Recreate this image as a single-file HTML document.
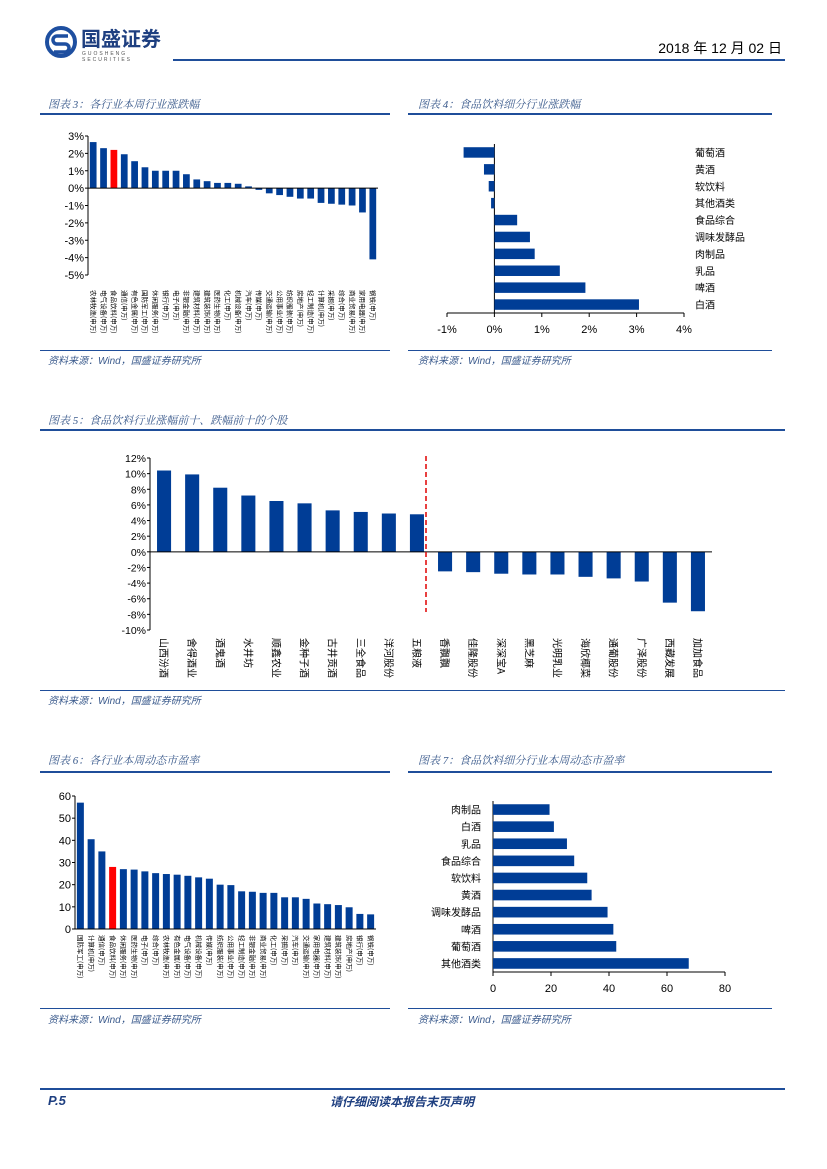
<!DOCTYPE html>
<html><head><meta charset="utf-8">
<style>
html,body{margin:0;padding:0;background:#fff;}
body{width:827px;height:1169px;position:relative;overflow:hidden;font-family:"Liberation Sans","Noto Sans CJK SC",sans-serif;}
.t{position:absolute;font-family:"Liberation Serif","Noto Serif CJK SC",serif;font-style:italic;color:#3a5a8c;font-size:11px;}
.ln{position:absolute;background:#1f4e9a;}
.src{position:absolute;font-style:italic;color:#3a5a8c;font-size:10px;font-family:"Liberation Sans","Noto Sans CJK SC",sans-serif;}
svg{position:absolute;left:0;top:0;}
</style></head><body>
<div style="position:absolute;left:45px;top:26px;width:130px;height:32px;">
<svg width="32" height="32" viewBox="0 0 32 32" style="position:absolute;left:0;top:0"><circle cx="16" cy="16" r="14" fill="none" stroke="#1e4fa0" stroke-width="4"/><path d="M23 10 H12 a4 4 0 0 0 0 8 h8 a4 4 0 0 1 0 8 H9" fill="none" stroke="#1e4fa0" stroke-width="3.5"/></svg>
<div style="position:absolute;left:36px;top:0;font-size:20px;font-weight:bold;color:#1e3f80;font-family:'Noto Sans CJK SC',sans-serif;line-height:24px;">国盛证券</div>
<div style="position:absolute;left:37px;top:25px;font-size:5px;color:#555;letter-spacing:2px;">GUOSHENG SECURITIES</div>
</div>
<div style="position:absolute;right:45px;top:38px;font-size:14px;color:#000;">2018 年 12 月 02 日</div>
<div class="ln" style="left:173px;top:59px;width:612px;height:2px;"></div>

<div class="t" style="left:48px;top:96px;">图表 3：各行业本周行业涨跌幅</div>
<div class="ln" style="left:40px;top:113px;width:350px;height:2px;"></div>
<div class="t" style="left:418px;top:96px;">图表 4：食品饮料细分行业涨跌幅</div>
<div class="ln" style="left:408px;top:113px;width:364px;height:2px;"></div>
<div class="ln" style="left:40px;top:350px;width:350px;height:1px;"></div>
<div class="ln" style="left:408px;top:350px;width:364px;height:1px;"></div>
<div class="src" style="left:48px;top:352px;">资料来源：Wind，国盛证券研究所</div>
<div class="src" style="left:418px;top:352px;">资料来源：Wind，国盛证券研究所</div>

<div class="t" style="left:48px;top:412px;">图表 5：食品饮料行业涨幅前十、跌幅前十的个股</div>
<div class="ln" style="left:40px;top:429px;width:745px;height:2px;"></div>
<div class="ln" style="left:40px;top:690px;width:745px;height:1px;"></div>
<div class="src" style="left:48px;top:692px;">资料来源：Wind，国盛证券研究所</div>

<div class="t" style="left:48px;top:752px;">图表 6：各行业本周动态市盈率</div>
<div class="ln" style="left:40px;top:771px;width:350px;height:2px;"></div>
<div class="t" style="left:418px;top:752px;">图表 7：食品饮料细分行业本周动态市盈率</div>
<div class="ln" style="left:408px;top:771px;width:364px;height:2px;"></div>
<div class="ln" style="left:40px;top:1008px;width:350px;height:1px;"></div>
<div class="ln" style="left:408px;top:1008px;width:364px;height:1px;"></div>
<div class="src" style="left:48px;top:1011px;">资料来源：Wind，国盛证券研究所</div>
<div class="src" style="left:418px;top:1011px;">资料来源：Wind，国盛证券研究所</div>

<div class="ln" style="left:40px;top:1088px;width:745px;height:2px;"></div>
<div style="position:absolute;left:48px;top:1093px;font-size:13px;font-weight:bold;font-style:italic;color:#1e3f80;">P.5</div>
<div style="position:absolute;left:330px;top:1093px;font-size:12px;font-weight:bold;font-style:italic;color:#1e3f80;font-family:'Noto Sans CJK SC',sans-serif;">请仔细阅读本报告末页声明</div>

<svg id="c" width="827" height="1169"></svg>
<script>
const c3Cats=["农林牧渔","电气设备","食品饮料","通信","有色金属","国防军工","休闲服务","银行","电子","非银金融","建筑材料","建筑装饰","医药生物","化工","机械设备","汽车","传媒","交通运输","公用事业","纺织服装","房地产","轻工制造","计算机","采掘","综合","商业贸易","家用电器","钢铁"];
const c3Vals=[2.65,2.3,2.2,1.95,1.55,1.2,1.0,1.0,1.0,0.8,0.5,0.4,0.3,0.3,0.25,0.1,-0.1,-0.3,-0.4,-0.5,-0.6,-0.6,-0.85,-0.9,-0.95,-1.0,-1.4,-4.1];
const c3Ticks=[3,2,1,0,-1,-2,-3,-4,-5];
const c4Cats=["葡萄酒","黄酒","软饮料","其他酒类","食品综合","调味发酵品","肉制品","乳品","啤酒","白酒"];
const c4Vals=[-0.65,-0.22,-0.12,-0.07,0.48,0.75,0.85,1.38,1.92,3.05];
const c4Ticks=[-1,0,1,2,3,4];
const c5Cats=["山西汾酒","舍得酒业","酒鬼酒","水井坊","顺鑫农业","金种子酒","古井贡酒","三全食品","洋河股份","五粮液","香飘飘","佳隆股份","深深宝A","黑芝麻","光明乳业","海欣椰菜","通葡股份","广泽股份","西藏发展","加加食品"];
const c5Vals=[10.4,9.9,8.2,7.2,6.5,6.2,5.3,5.1,4.9,4.8,-2.5,-2.6,-2.8,-2.9,-2.9,-3.2,-3.4,-3.8,-6.5,-7.6];
const c5Ticks=[12,10,8,6,4,2,0,-2,-4,-6,-8,-10];
const c6Cats=["国防军工","计算机","通信","食品饮料","休闲服务","医药生物","电子","综合","农林牧渔","有色金属","电气设备","机械设备","传媒","纺织服装","公用事业","轻工制造","非银金融","商业贸易","化工","采掘","汽车","交通运输","家用电器","建筑材料","建筑装饰","房地产","银行","钢铁"];
const c6Vals=[57,40.5,35,28,27,26.8,26,25.2,24.8,24.5,24,23.3,22.7,20,19.8,17,16.8,16.3,16.3,14.3,14.3,13.6,11.5,11.2,10.8,9.8,6.8,6.6];
const c6Ticks=[60,50,40,30,20,10,0];
const c7Cats=["肉制品","白酒","乳品","食品综合","软饮料","黄酒","调味发酵品","啤酒","葡萄酒","其他酒类"];
const c7Vals=[19.5,21,25.5,28,32.5,34,39.5,41.5,42.5,67.5];
const c7Ticks=[0,20,40,60,80];

const NS="http://www.w3.org/2000/svg",svg=document.getElementById('c');
const BLUE="#003d96";
function el(t,a,txt){const e=document.createElementNS(NS,t);for(const k in a)e.setAttribute(k,a[k]);if(txt!==undefined)e.textContent=txt;svg.appendChild(e);return e;}

function vchart(o){
  const y=v=>o.y0+(o.vmax-v)/(o.vmax-o.vmin)*(o.y1-o.y0);
  const slot=(o.x1-o.x0)/o.cats.length;
  o.ticks.forEach(t=>{
    const tl=el('text',{x:o.x0-4,y:y(t)+4,'text-anchor':'end','font-size':o.fs,fill:'#000'},t+o.suf);
    
    
    el('line',{x1:o.x0-3,x2:o.x0,y1:y(t),y2:y(t),stroke:'#000'});
  });
  el('line',{x1:o.x0,x2:o.x0,y1:o.y0,y2:o.y1,stroke:'#000'});
  o.vals.forEach((v,i)=>{
    const cx=o.x0+slot*(i+0.5),w=slot*o.bw;
    const top=Math.min(y(v),y(0)),h=Math.abs(y(v)-y(0));
    const r=el('rect',{x:cx-w/2,y:top,width:w,height:Math.max(h,1),fill:(o.red===i)?'#ff0000':BLUE});
    
    
    const lab=el('text',{transform:`translate(${cx-o.lfs/2+1},${o.ly}) rotate(90)`,'font-size':o.lfs,fill:'#000','font-family':'"Noto Sans CJK SC",sans-serif'},o.cats[i]+o.lsuf);
    
    
  });
  el('line',{x1:o.x0,x2:o.x1,y1:y(0),y2:y(0),stroke:'#000'});
  return y;
}
function hchart(o){
  const x=v=>o.x0+(v-o.vmin)/(o.vmax-o.vmin)*(o.x1-o.x0);
  const slot=(o.y1-o.y0)/o.cats.length;
  el('line',{x1:o.x0,x2:o.x1,y1:o.y1,y2:o.y1,stroke:'#000'});
  o.ticks.forEach(t=>{
    el('line',{x1:x(t),x2:x(t),y1:o.y1,y2:o.y1+4,stroke:'#000'});
    const tl=el('text',{x:x(t),y:o.y1+20,'text-anchor':'middle','font-size':11,fill:'#000'},t+o.suf);
    
    
  });
  el('line',{x1:x(0),x2:x(0),y1:o.y0,y2:o.y1,stroke:'#000'});
  o.vals.forEach((v,i)=>{
    const cy=o.y0+slot*(i+0.5),h=slot*0.62;
    const r=el('rect',{x:Math.min(x(v),x(0)),y:cy-h/2,width:Math.abs(x(v)-x(0)),height:h,fill:BLUE});
    
    
    const lab=el('text',{x:o.lx,y:cy+4,'text-anchor':o.la,'font-size':10,fill:'#000','font-family':'"Noto Sans CJK SC",sans-serif'},o.cats[i]);
    
    
  });
}
vchart({cats:c3Cats,vals:c3Vals,ticks:c3Ticks,vmax:3,vmin:-5,y0:136,y1:275,x0:88,x1:378,bw:0.65,red:2,suf:"%",fs:11,lfs:6.5,ly:290,lsuf:"(申万)"});
hchart({cats:c4Cats,vals:c4Vals,ticks:c4Ticks,vmin:-1,vmax:4,x0:447,x1:684,y0:144,y1:313,suf:"%",lx:695,la:'start'});
const y5=vchart({cats:c5Cats,vals:c5Vals,ticks:c5Ticks,vmax:12,vmin:-10,y0:458,y1:630,x0:150,x1:712,bw:0.5,red:-1,suf:"%",fs:10.5,lfs:10,ly:638,lsuf:""});
el('line',{x1:426,x2:426,y1:456,y2:612,stroke:'#e00000','stroke-width':1.5,'stroke-dasharray':'5,3'});
vchart({cats:c6Cats,vals:c6Vals,ticks:c6Ticks,vmax:60,vmin:0,y0:796,y1:929,x0:75,x1:376,bw:0.65,red:3,suf:"",fs:11,lfs:6.5,ly:935,lsuf:"(申万)"});
hchart({cats:c7Cats,vals:c7Vals,ticks:c7Ticks,vmin:0,vmax:80,x0:493,x1:725,y0:801,y1:972,suf:"",lx:481,la:'end'});
</script>
</body></html>
